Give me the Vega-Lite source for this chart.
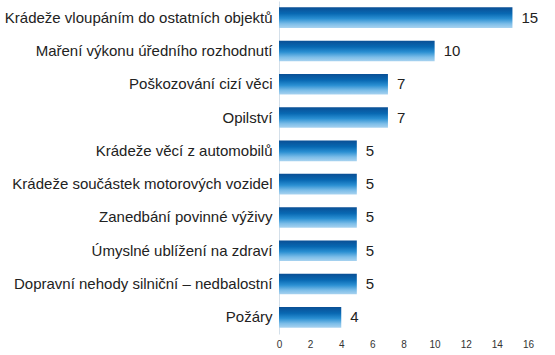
{
  "$schema": "https://vega.github.io/schema/vega-lite/v6.json",
  "autosize": "none",
  "width": 249,
  "height": 333,
  "padding": {"left": 279, "top": 1, "right": 27, "bottom": 21},
  "background": "white",
  "config": {"view": {"stroke": null}, "font": "Liberation Sans"},
  "data": {"values": [
    {"cat": "Krádeže vloupáním do ostatních objektů", "v": 15},
    {"cat": "Maření výkonu úředního rozhodnutí", "v": 10},
    {"cat": "Poškozování cizí věci", "v": 7},
    {"cat": "Opilství", "v": 7},
    {"cat": "Krádeže věcí z automobilů", "v": 5},
    {"cat": "Krádeže součástek motorových vozidel", "v": 5},
    {"cat": "Zanedbání povinné výživy", "v": 5},
    {"cat": "Úmyslné ublížení na zdraví", "v": 5},
    {"cat": "Dopravní nehody silniční – nedbalostní", "v": 5},
    {"cat": "Požáry", "v": 4}
  ]},
  "encoding": {
    "y": {"field": "cat", "type": "nominal", "sort": null,
      "scale": {"paddingInner": 0.38, "paddingOuter": 0.19},
      "axis": {"title": null, "ticks": false, "labelPadding": 7, "labelFontSize": 15, "labelColor": "#222", "labelFont": "Liberation Sans", "domainColor": "#d4e0ea", "labelLimit": 300}},
    "x": {"field": "v", "type": "quantitative",
      "scale": {"domain": [0, 16], "nice": false},
      "axis": {"title": null, "values": [0,2,4,6,8,10,12,14,16], "grid": false, "ticks": false, "domain": false, "labelFontSize": 10, "labelColor": "#333", "labelPadding": 5, "labelFlush": false}}
  },
  "layer": [
    {"mark": {"type": "bar", "color": {"gradient": "linear", "x1": 0, "y1": 0, "x2": 0, "y2": 1,
      "stops": [
        {"offset": 0, "color": "#0a4f95"},
        {"offset": 0.3, "color": "#0868b2"},
        {"offset": 0.55, "color": "#2a8fd2"},
        {"offset": 0.8, "color": "#7cbde8"},
        {"offset": 1, "color": "#a9d3f0"}
      ]}}},
    {"mark": {"type": "text", "align": "left", "dx": 9, "fontSize": 15, "color": "#222", "font": "Liberation Sans"},
     "encoding": {"text": {"field": "v", "type": "quantitative"}}}
  ]
}
